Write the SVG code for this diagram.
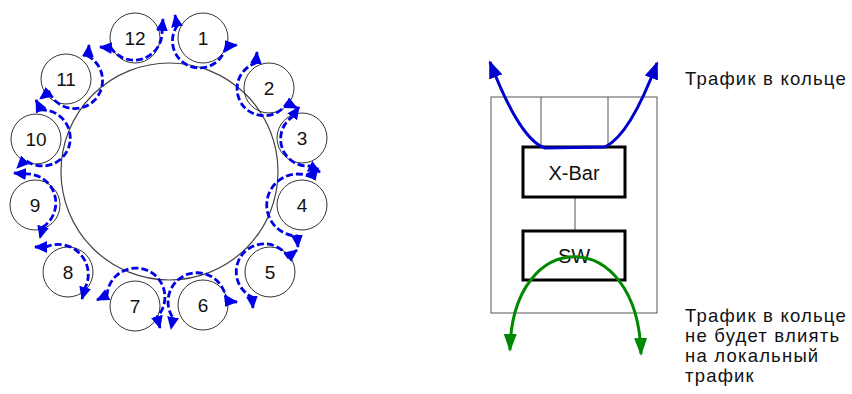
<svg xmlns="http://www.w3.org/2000/svg" width="852" height="394" viewBox="0 0 852 394">
<style>
  .ring{fill:none;stroke:#444;stroke-width:1.2}
  .node{fill:none;stroke:#333;stroke-width:1}
  .num{font-family:"Liberation Sans",Arial,sans-serif;font-size:19px;fill:#111;text-anchor:middle}
  .flow{fill:none;stroke:#0000e6;stroke-width:2.8;stroke-dasharray:7 3;marker-start:url(#bh);marker-end:url(#bt)}
  .frame{fill:none;stroke:#555;stroke-width:1}
  .box{fill:#fff;stroke:#000;stroke-width:3}
  .lbl{font-family:"Liberation Sans",Arial,sans-serif;font-size:20px;fill:#111;text-anchor:middle}
  .note{font-family:"Liberation Sans",Arial,sans-serif;font-size:18.5px;letter-spacing:1.2px;fill:#111}
</style>
<defs>
  <marker id="bt" viewBox="0 0 13 12" refX="12" refY="6" markerWidth="13" markerHeight="12" markerUnits="userSpaceOnUse" orient="auto">
    <path d="M0,0 L13,6 L0,12 z" fill="#0000e6"/>
  </marker>
  <marker id="bh" viewBox="0 0 13 12" refX="12" refY="6" markerWidth="13" markerHeight="12" markerUnits="userSpaceOnUse" orient="auto-start-reverse">
    <path d="M0,0 L13,6 L0,12 z" fill="#0000e6"/>
  </marker>
  <marker id="blueA" viewBox="0 0 18 14" refX="16" refY="7" markerWidth="18" markerHeight="14" markerUnits="userSpaceOnUse" orient="auto-start-reverse">
    <path d="M0,0 L18,7 L0,14 z" fill="#0000cc"/>
  </marker>
  <marker id="greenA" viewBox="0 0 18 13" refX="16" refY="6.5" markerWidth="18" markerHeight="13" markerUnits="userSpaceOnUse" orient="auto-start-reverse">
    <path d="M0,0 L18,6.5 L0,13 z" fill="#008800"/>
  </marker>
</defs>
<rect width="852" height="394" fill="#fff"/>

<circle class="ring" cx="169.5" cy="171.5" r="108.5"/>

<g id="node1"><circle class="node" cx="203" cy="38" r="25"/><text class="num" x="203" y="45">1</text></g>
<g id="node2"><circle class="node" cx="269" cy="88" r="25"/><text class="num" x="269" y="95">2</text></g>
<g id="node3"><circle class="node" cx="302" cy="138" r="25"/><text class="num" x="302" y="145">3</text></g>
<g id="node4"><circle class="node" cx="302" cy="205" r="25"/><text class="num" x="302" y="212">4</text></g>
<g id="node5"><circle class="node" cx="270" cy="272" r="25"/><text class="num" x="270" y="279">5</text></g>
<g id="node6"><circle class="node" cx="203" cy="305" r="25"/><text class="num" x="203" y="312">6</text></g>
<g id="node7"><circle class="node" cx="135" cy="306" r="25"/><text class="num" x="135" y="313">7</text></g>
<g id="node8"><circle class="node" cx="68" cy="272" r="25"/><text class="num" x="68" y="279">8</text></g>
<g id="node9"><circle class="node" cx="35" cy="205" r="25"/><text class="num" x="35" y="212">9</text></g>
<g id="node10"><circle class="node" cx="36" cy="139" r="25"/><text class="num" x="36" y="146">10</text></g>
<g id="node11"><circle class="node" cx="66" cy="79" r="25"/><text class="num" x="66" y="86">11</text></g>
<g id="node12"><circle class="node" cx="135" cy="38" r="25"/><text class="num" x="135" y="45">12</text></g>

<g id="connectors">
  <path class="flow" d="M175,15 L177,26 A27 27 0 1 0 226,46 L237,45"/>
  <path class="flow" d="M257,52 L256,63 A27 27 0 1 0 287,103 L297,108"/>
  <path class="flow" d="M299,107 L292,117 A27 27 0 0 0 309,166 L320,172"/>
  <path class="flow" d="M318,168 L311,177 A31 31 0 1 0 297,236 L298,247"/>
  <path class="flow" d="M297,250 L288,257 A28 28 0 1 0 252,297 L253,308"/>
  <path class="flow" d="M237,302 L226,301 A29 29 0 1 0 173,318 L171,329"/>
  <path class="flow" d="M97,300 L107,295 A29 29 0 1 1 157,317 L160,328"/>
  <path class="flow" d="M35,247 L46,247 A30 30 0 0 1 85,288 L82,299"/>
  <path class="flow" d="M14,173 L25,174 A29 29 0 0 1 43,227 L40,238"/>
  <path class="flow" d="M36,100 L41,110 A28 28 0 1 1 25,160 L17,168"/>
  <path class="flow" d="M89,45 L88,56 A28 28 0 1 1 49,92 L40,99"/>
  <path class="flow" d="M100,47 L111,48 A28 28 0 0 0 162,30 L163,19"/>
</g>

<g id="switch">
  <rect class="frame" x="491" y="97" width="166" height="216"/>
  <line class="frame" x1="541" y1="97" x2="541" y2="147"/>
  <line class="frame" x1="608" y1="97" x2="608" y2="147"/>
  <line class="frame" x1="575" y1="197" x2="575" y2="231"/>
</g>
<g id="xbar">
  <rect class="box" x="523" y="147" width="102" height="50"/>
  <text class="lbl" x="574" y="180">X-Bar</text>
</g>
<g id="sw">
  <rect class="box" x="523" y="231" width="102" height="49"/>
  <text class="lbl" x="574" y="263" fill="#222">SW</text>
</g>
<g id="flows">
  <path d="M490,62 Q520,140 545,148 L605,147 Q630,135 657,63" fill="none" stroke="#0000cc" stroke-width="3" marker-start="url(#blueA)" marker-end="url(#blueA)"/>
  <path d="M510,350 C512,225 638,225 641,354" fill="none" stroke="#008800" stroke-width="3" marker-start="url(#greenA)" marker-end="url(#greenA)"/>
</g>

<g id="notes">
  <text class="note" x="685" y="85">Трафик в кольце</text>
  <text class="note" x="685" y="322">Трафик в кольце</text>
  <text class="note" x="685" y="342">не будет влиять</text>
  <text class="note" x="685" y="362">на локальный</text>
  <text class="note" x="685" y="382">трафик</text>
</g>
</svg>
